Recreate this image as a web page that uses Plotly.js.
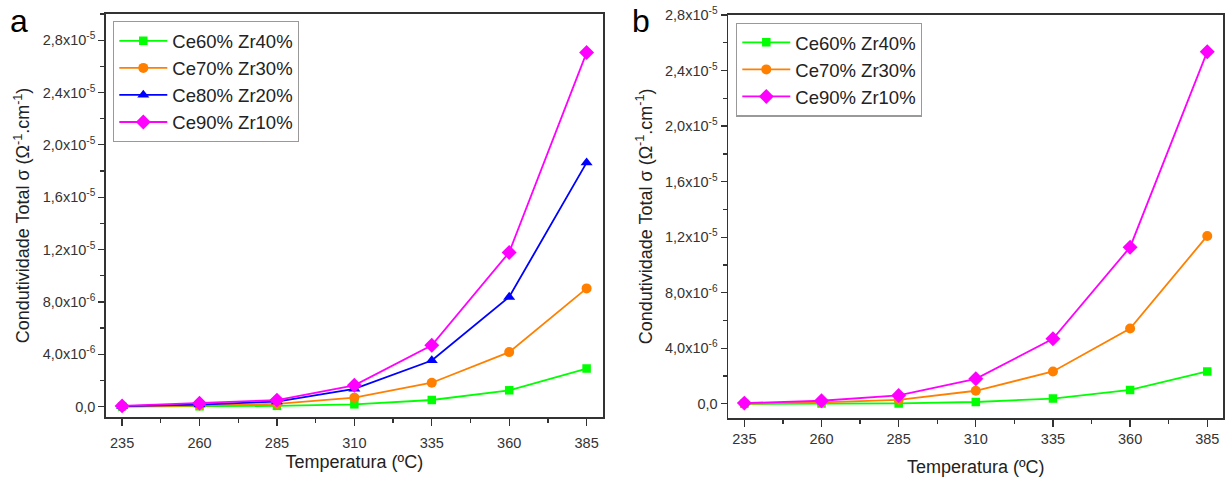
<!DOCTYPE html>
<html>
<head>
<meta charset="utf-8">
<script src="https://cdn.plot.ly/plotly-3.0.1.min.js"></script>
<style>html,body{margin:0;padding:0;background:#fff;}#chart{width:1229px;height:479px;}</style>
</head>
<body>
<div id="chart"></div>
<script>
// ---- data ----
const temps = [235, 260, 285, 310, 335, 360, 385];
const xTickVals = [235, 260, 285, 310, 335, 360, 385];

// panel a
const aCe60 = [0.0, 0.02e-6, 0.05e-6, 0.17e-6, 0.50e-6, 1.24e-6, 2.90e-6];
const aCe70 = [0.02e-6, 0.08e-6, 0.20e-6, 0.68e-6, 1.82e-6, 4.16e-6, 9.03e-6];
const aCe80 = [0.03e-6, 0.15e-6, 0.38e-6, 1.35e-6, 3.52e-6, 8.37e-6, 18.64e-6];
const aCe90 = [0.05e-6, 0.26e-6, 0.49e-6, 1.62e-6, 4.68e-6, 11.78e-6, 27.05e-6];

// panel b
const bCe60 = [0.0, 0.02e-6, 0.03e-6, 0.13e-6, 0.38e-6, 1.00e-6, 2.33e-6];
const bCe70 = [0.02e-6, 0.10e-6, 0.29e-6, 0.94e-6, 2.33e-6, 5.42e-6, 12.09e-6];
const bCe90 = [0.05e-6, 0.22e-6, 0.60e-6, 1.80e-6, 4.68e-6, 11.28e-6, 25.36e-6];

const seriesNames = ["Ce60% Zr40%", "Ce70% Zr30%", "Ce80% Zr20%", "Ce90% Zr10%"];
const yTickVals = [0, 4e-6, 8e-6, 1.2e-5, 1.6e-5, 2.0e-5, 2.4e-5, 2.8e-5];
const yTickText = ["0,0", "4,0x10<sup>-6</sup>", "8,0x10<sup>-6</sup>", "1,2x10<sup>-5</sup>",
  "1,6x10<sup>-5</sup>", "2,0x10<sup>-5</sup>", "2,4x10<sup>-5</sup>", "2,8x10<sup>-5</sup>"];

// ---- styles ----
const colors = {ce60: "#00ff00", ce70: "#ff8000", ce80: "#0000ff", ce90: "#ff00ff"};
const markers = {
  ce60: {symbol: "square", size: 8.5},
  ce70: {symbol: "circle", size: 10},
  ce80: {symbol: "triangle-up", size: 10.5},
  ce90: {symbol: "diamond", size: 11.5}
};

function tr(y, key, name, xa, ya, leg) {
  return {
    x: temps, y: y, name: name, type: "scatter", mode: "lines+markers",
    xaxis: xa, yaxis: ya, legend: leg,
    line: {color: colors[key], width: 1.8},
    marker: {color: colors[key], symbol: markers[key].symbol, size: markers[key].size}
  };
}

const data = [
  tr(aCe60, "ce60", seriesNames[0], "x", "y", "legend"),
  tr(aCe70, "ce70", seriesNames[1], "x", "y", "legend"),
  tr(aCe80, "ce80", seriesNames[2], "x", "y", "legend"),
  tr(aCe90, "ce90", seriesNames[3], "x", "y", "legend"),
  tr(bCe60, "ce60", seriesNames[0], "x2", "y2", "legend2"),
  tr(bCe70, "ce70", seriesNames[1], "x2", "y2", "legend2"),
  tr(bCe90, "ce90", seriesNames[3], "x2", "y2", "legend2")
];

const axColor = "#333333";
const fontFam = "Liberation Sans, Arial, sans-serif";

function xAxis(domain, anchor, labelOff, titleOff) {
  return {
    domain: domain, anchor: anchor, range: [229.8, 390.2],
    tickmode: "array", tickvals: xTickVals,
    ticks: "outside", ticklen: 7, tickwidth: 1.3, tickcolor: axColor,
    ticklabelstandoff: labelOff,
    minor: {tickmode: "linear", tick0: 222.5, dtick: 25, ticks: "outside", ticklen: 4, tickwidth: 1.3, tickcolor: axColor, showgrid: false},
    showline: true, linecolor: axColor, linewidth: 1.8, mirror: true,
    showgrid: false, zeroline: false,
    tickfont: {size: 14.5, color: "#333", family: fontFam},
    title: {text: "Temperatura (ºC)", font: {size: 18, color: "#222", family: fontFam}, standoff: titleOff}
  };
}
function yAxis(domain, anchor, range) {
  return {
    domain: domain, anchor: anchor, range: range,
    tickmode: "array", tickvals: yTickVals, ticktext: yTickText,
    ticks: "outside", ticklen: 6, tickwidth: 1.3, tickcolor: axColor,
    minor: {tickmode: "linear", tick0: 0, dtick: 2e-6, ticks: "outside", ticklen: 4, tickwidth: 1.3, tickcolor: axColor, showgrid: false},
    showline: true, linecolor: axColor, linewidth: 1.8, mirror: true,
    showgrid: false, zeroline: false,
    tickfont: {size: 14.5, color: "#333", family: fontFam},
    title: {text: "Condutividade Total σ (Ω<sup>-1</sup>.cm<sup>-1</sup>)", font: {size: 18, color: "#222", family: fontFam}, standoff: 8}
  };
}

const legendStyle = {
  font: {size: 18.5, color: "#222", family: fontFam},
  bgcolor: "rgba(255,255,255,1)", bordercolor: "#999", borderwidth: 1.3,
  xanchor: "left", yanchor: "top", itemwidth: 48, tracegroupgap: 0
};

const layout = {
  width: 1229, height: 479,
  margin: {l: 0, r: 0, t: 0, b: 0},
  paper_bgcolor: "#fff", plot_bgcolor: "#fff",
  font: {family: fontFam},
  showlegend: true,
  xaxis: xAxis([106 / 1229, 602.7 / 1229], "y", 5, 5),
  yaxis: yAxis([62 / 479, 465 / 479], "x", [-8e-7, 3.0e-5]),
  xaxis2: xAxis([728.3 / 1229, 1223.3 / 1229], "y2", 0, 14),
  yaxis2: yAxis([61.3 / 479, 464 / 479], "x2", [-1.0e-6, 2.8e-5]),
  legend: Object.assign({x: 113 / 1229, y: 1 - 21 / 479}, legendStyle),
  legend2: Object.assign({x: 736 / 1229, y: 1 - 22.5 / 479}, legendStyle),
  annotations: [
    {text: "a", xref: "paper", yref: "paper", x: 8 / 1229, y: 1 - 1 / 479, xanchor: "left", yanchor: "top", showarrow: false, font: {size: 32, color: "#000", family: fontFam}},
    {text: "b", xref: "paper", yref: "paper", x: 630 / 1229, y: 1 - 1 / 479, xanchor: "left", yanchor: "top", showarrow: false, font: {size: 32, color: "#000", family: fontFam}}
  ]
};

Plotly.newPlot("chart", data, layout, {staticPlot: true, displayModeBar: false});
</script>
</body>
</html>
